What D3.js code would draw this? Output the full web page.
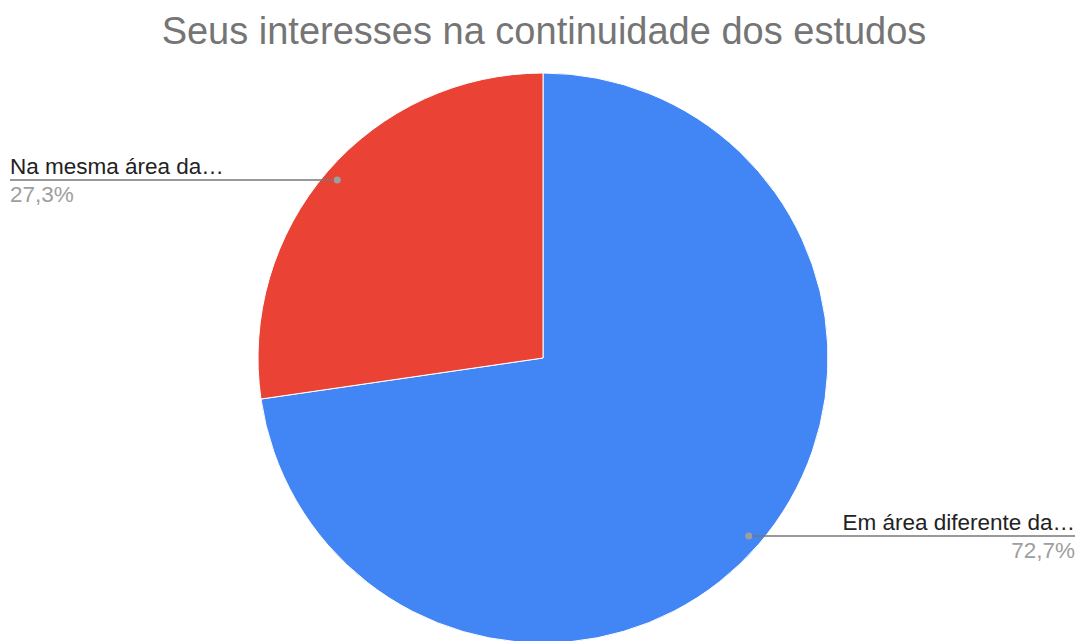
<!DOCTYPE html>
<html>
<head>
<meta charset="utf-8">
<script src="https://cdn.jsdelivr.net/npm/d3@7"></script>
<style>
  body { margin: 0; background: #fff; }
  text { font-family: "Liberation Sans", Arial, sans-serif; }
</style>
</head>
<body>
<div id="chart"></div>
<script>
var labels = ["Em área diferente da…", "Na mesma área da…"];
var values = [72.7, 27.3];
var pctLabels = ["72,7%", "27,3%"];
var colors = ["#4285f4", "#ea4335"];

function init() {
  var w = 1080;
  var h = 641;
  var cx = 543, cy = 358, radius = 285;

  var svg = d3.select("#chart")
    .append("svg")
    .attr("width", w)
    .attr("height", h);

  // title
  svg.append("text")
    .attr("x", 544)
    .attr("y", 44)
    .attr("text-anchor", "middle")
    .attr("fill", "#757575")
    .style("font-size", "38px")
    .text("Seus interesses na continuidade dos estudos");

  var data = values.map(function(v, i) {
    return { label: labels[i], value: v, pct: pctLabels[i], color: colors[i] };
  });

  var pie = d3.pie()
    .sort(null)
    .value(function(d) { return d.value; });

  var arc = d3.arc().innerRadius(0).outerRadius(radius);
  var dotArc = d3.arc().innerRadius(272).outerRadius(272);

  var g = svg.append("g")
    .attr("transform", "translate(" + cx + "," + cy + ")");

  var arcs = pie(data);

  g.selectAll("path.slice")
    .data(arcs)
    .enter()
    .append("path")
    .attr("class", "slice")
    .attr("d", arc)
    .attr("fill", function(d) { return d.data.color; })
    .attr("stroke", "#fff")
    .attr("stroke-width", 1);

  // leader lines and labels
  arcs.forEach(function(d) {
    var c = dotArc.centroid(d);
    var px = cx + c[0], py = cy + c[1];
    var right = c[0] > 0;
    var endX = right ? 1075 : 10;

    svg.append("line")
      .attr("x1", px).attr("y1", py)
      .attr("x2", endX).attr("y2", py)
      .attr("stroke", "#777")
      .attr("stroke-width", 1.5);

    svg.append("circle")
      .attr("cx", px).attr("cy", py)
      .attr("r", 3.5)
      .attr("fill", "#9e9e9e");

    svg.append("text")
      .attr("x", endX)
      .attr("y", py - 6)
      .attr("text-anchor", right ? "end" : "start")
      .attr("fill", "#222")
      .style("font-size", "22.5px")
      .text(d.data.label);

    svg.append("text")
      .attr("x", endX)
      .attr("y", py + 22)
      .attr("text-anchor", right ? "end" : "start")
      .attr("fill", "#9e9e9e")
      .style("font-size", "22.5px")
      .text(d.data.pct);
  });
}

window.onload = init;
</script>
</body>
</html>
